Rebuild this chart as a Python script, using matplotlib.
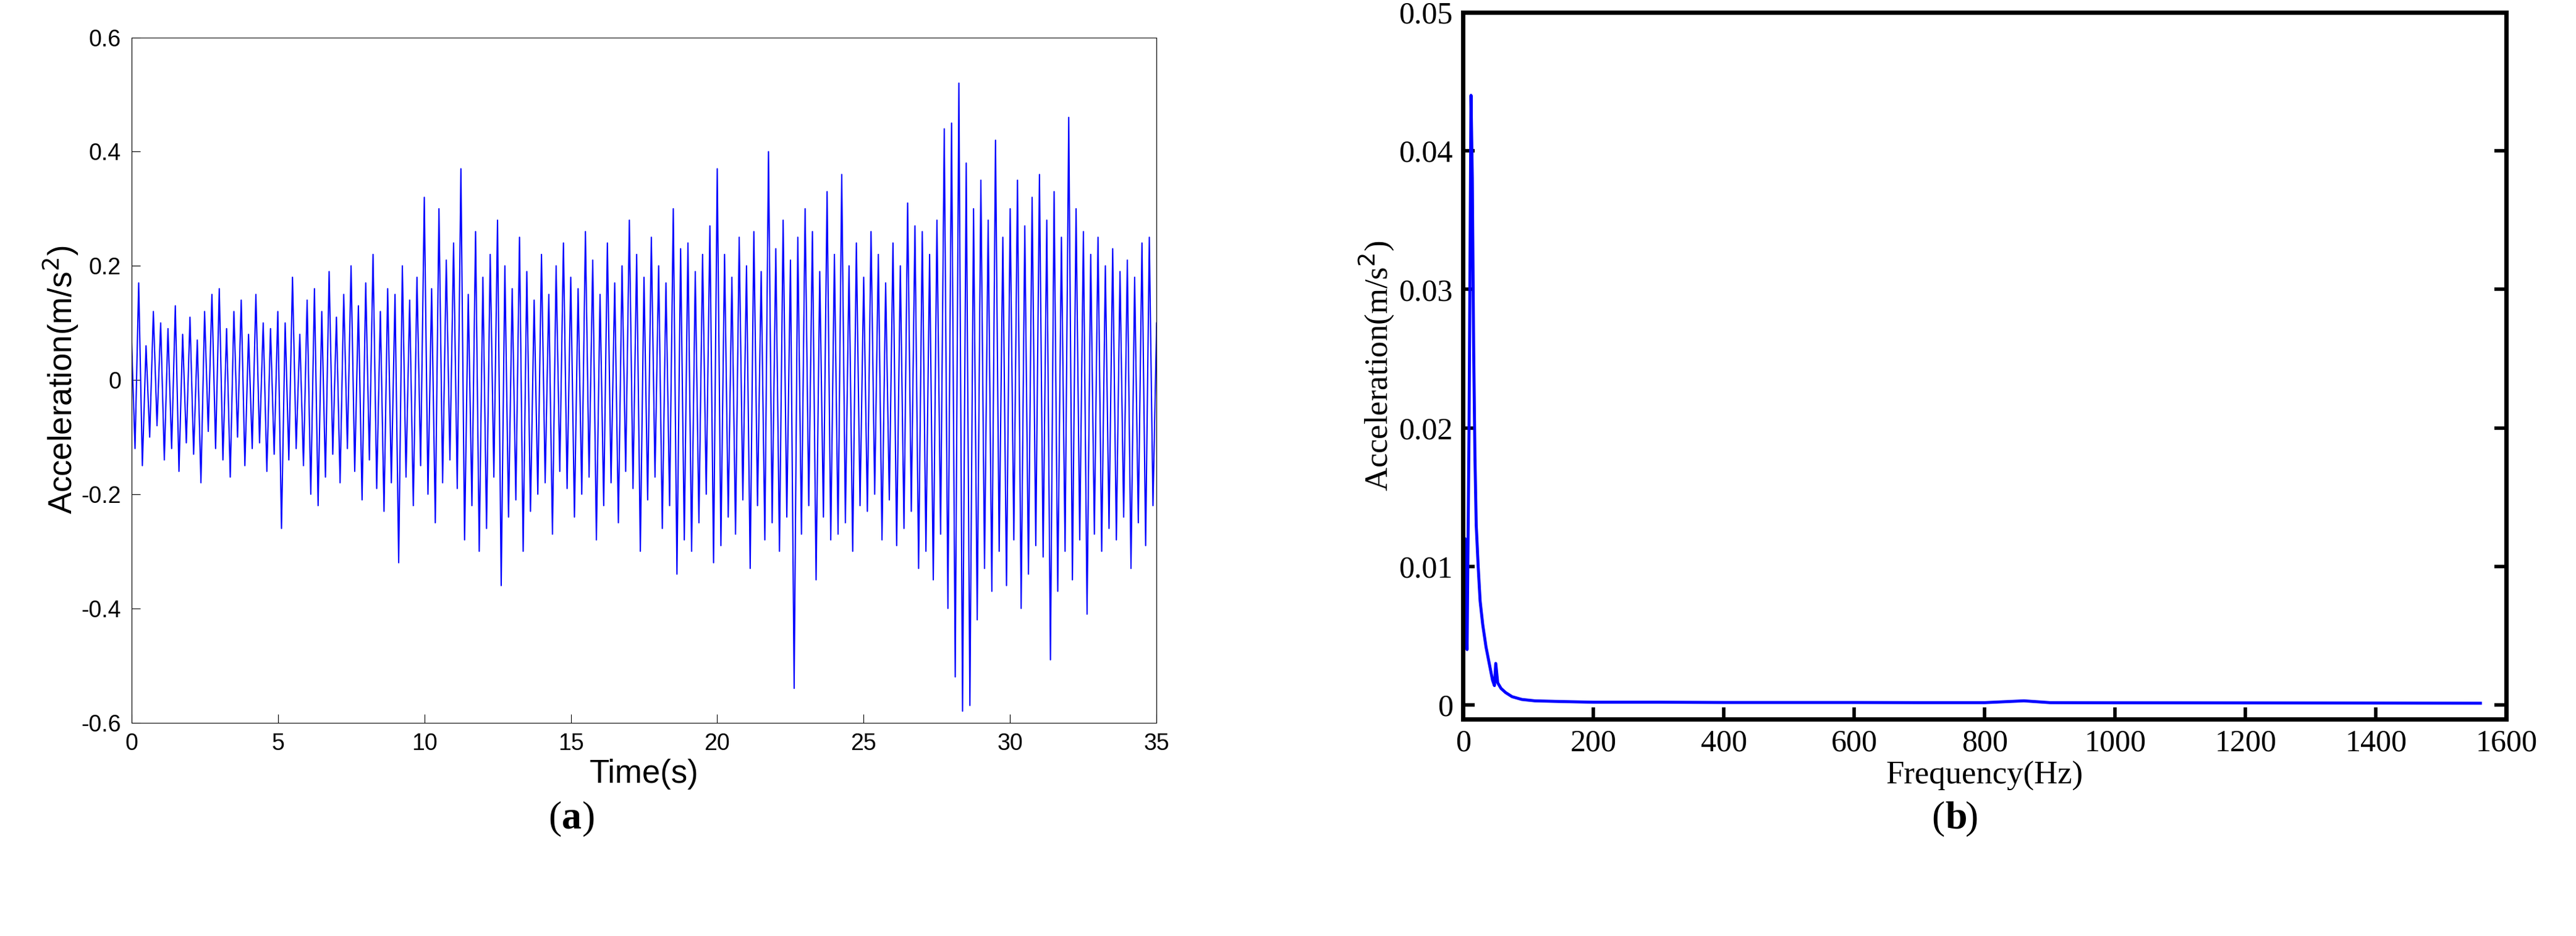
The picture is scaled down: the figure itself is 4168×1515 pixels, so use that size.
import matplotlib
matplotlib.use("Agg")
import matplotlib.pyplot as plt
import numpy as np

# (a) time history, peak-to-peak readings, 8 per second
accel_time = [
    .08,-.12,.17,-.15,.06,-.10,.12,-.08,
    .10,-.14,.09,-.12,.13,-.16,.08,-.11,
    .11,-.13,.07,-.18,.12,-.09,.15,-.12,
    .16,-.14,.09,-.17,.12,-.10,.14,-.15,
    .08,-.12,.15,-.11,.10,-.16,.09,-.13,
    .12,-.26,.10,-.14,.18,-.12,.08,-.15,
    .14,-.20,.16,-.22,.12,-.17,.19,-.13,
    .11,-.18,.15,-.12,.20,-.16,.13,-.21,
    .17,-.14,.22,-.19,.12,-.23,.16,-.18,
    .15,-.32,.20,-.17,.14,-.22,.18,-.15,
    .32,-.20,.16,-.25,.30,-.18,.21,-.14,
    .24,-.19,.37,-.28,.15,-.22,.26,-.30,
    .18,-.26,.22,-.17,.28,-.36,.20,-.24,
    .16,-.21,.25,-.30,.19,-.23,.14,-.20,
    .22,-.18,.15,-.27,.20,-.16,.24,-.19,
    .18,-.24,.16,-.20,.26,-.17,.21,-.28,
    .15,-.22,.24,-.18,.17,-.25,.20,-.16,
    .28,-.19,.22,-.30,.18,-.21,.25,-.17,
    .20,-.26,.17,-.22,.30,-.34,.23,-.28,
    .24,-.30,.19,-.25,.22,-.20,.27,-.32,
    .37,-.29,.22,-.24,.18,-.27,.25,-.21,
    .20,-.33,.26,-.22,.19,-.28,.40,-.25,
    .23,-.30,.28,-.24,.21,-.54,.25,-.27,
    .30,-.22,.26,-.35,.19,-.24,.33,-.28,
    .22,-.27,.36,-.25,.20,-.30,.24,-.22,
    .18,-.23,.26,-.20,.22,-.28,.17,-.21,
    .24,-.29,.20,-.26,.31,-.23,.27,-.33,
    .26,-.30,.22,-.35,.28,-.27,.44,-.40,
    .45,-.52,.52,-.58,.38,-.57,.30,-.42,
    .35,-.33,.28,-.37,.42,-.30,.25,-.36,
    .30,-.28,.35,-.40,.27,-.34,.32,-.29,
    .36,-.31,.28,-.49,.33,-.37,.25,-.30,
    .46,-.35,.30,-.28,.26,-.41,.22,-.27,
    .25,-.30,.20,-.26,.23,-.28,.19,-.24,
    .21,-.33,.18,-.25,.24,-.29,.25,-.22,
    .10,
]
times = np.linspace(0, 35, len(accel_time))

# (b) spectrum
freq = [0, 3, 6, 9, 12, 14, 16, 18, 20, 23, 26, 30, 35, 40, 45, 48, 50, 53, 58,
        65, 75, 90, 110, 150, 200, 300, 400, 500, 600, 700, 800, 860, 900,
        1000, 1200, 1400, 1560]
spec = [0, .012, .004, .02, .044, .038, .026, .018, .013, .010, .0075, .0058,
        .0042, .003, .0018, .0014, .003, .0016, .0012, .0009, .0006, .0004,
        .0003, .00025, .0002, .0002, .00018, .00018, .00018, .00017, .00017,
        .0003, .00017, .00016, .00015, .00014, .00013]

fig = plt.figure(figsize=(41.68, 15.15), dpi=100)

ax1 = fig.add_axes([0.051, 0.228, 0.398, 0.732])
ax1.plot(times, accel_time, color='blue', lw=1.5)
ax1.set_xlim(0, 35)
ax1.set_ylim(-0.6, 0.6)
ax1.set_xticks(np.arange(0, 36, 5))
ax1.set_yticks(np.arange(-0.6, 0.61, 0.2))
ax1.set_yticklabels(['-0.6', '-0.4', '-0.2', '0', '0.2', '0.4', '0.6'])
ax1.tick_params(direction='in', labelsize=27, length=10, pad=12, top=False, right=False)
for lbl in ax1.get_xticklabels() + ax1.get_yticklabels():
    lbl.set_family('Liberation Sans')
ax1.set_xlabel('Time(s)', fontsize=38, family='Liberation Sans', labelpad=4)
ax1.set_ylabel('Acceleration(m/s$^2$)', fontsize=38, family='Liberation Sans')
ax1.yaxis.set_label_coords(-0.05, 0.5)

ax2 = fig.add_axes([0.568, 0.232, 0.405, 0.755])
ax2.plot(freq, spec, color='blue', lw=3.5)
ax2.set_xlim(0, 1600)
ax2.set_ylim(-0.001, 0.05)
ax2.set_yticks([0, 0.01, 0.02, 0.03, 0.04, 0.05])
ax2.set_yticklabels(['0', '0.01', '0.02', '0.03', '0.04', '0.05'])
ax2.tick_params(direction='in', labelsize=36, length=14, width=4, pad=12, right=True, top=False)
for sp in ax2.spines.values():
    sp.set_linewidth(5)
for lbl in ax2.get_xticklabels() + ax2.get_yticklabels():
    lbl.set_family('Liberation Serif')
ax2.set_xlabel('Frequency(Hz)', fontsize=38, family='Liberation Serif')
ax2.set_ylabel('Acceleration(m/s$^2$)', fontsize=38, family='Liberation Serif')

ly = 0.125
fig.text(0.218, ly, '(', fontsize=46, family='Liberation Serif', ha='right', va='center')
fig.text(0.218, ly, 'a', fontsize=46, family='Liberation Serif', weight='bold', ha='left', va='center')
fig.text(0.226, ly, ')', fontsize=46, family='Liberation Serif', ha='left', va='center')
fig.text(0.755, ly, '(', fontsize=46, family='Liberation Serif', ha='right', va='center')
fig.text(0.755, ly, 'b', fontsize=46, family='Liberation Serif', weight='bold', ha='left', va='center')
fig.text(0.763, ly, ')', fontsize=46, family='Liberation Serif', ha='left', va='center')

fig.savefig('out.png', dpi=100)
